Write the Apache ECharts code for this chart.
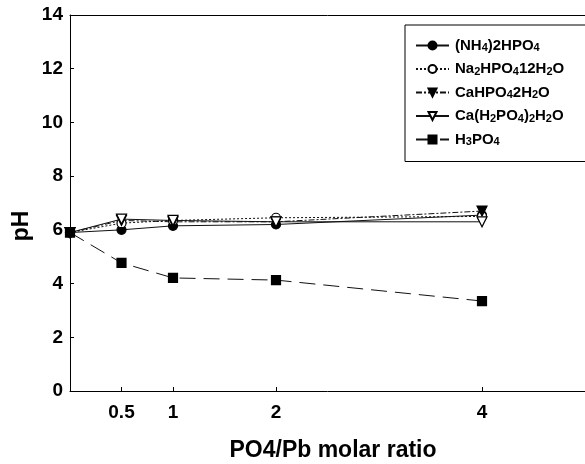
<!DOCTYPE html>
<html>
<head>
<meta charset="utf-8">
<script src="https://cdn.jsdelivr.net/npm/echarts@6/dist/echarts.min.js"></script>
<style>html,body{margin:0;padding:0;background:#fff;}#c{width:585px;height:464px;}</style>
</head>
<body>
<div id="c"></div>
<script>
var ratios = [0, 0.5, 1, 2, 4];
var tickValues = [0.5, 1, 2, 4];
var nh4 = [5.9, 6.0, 6.15, 6.2, 6.55];
var na2 = [5.9, 6.25, 6.35, 6.45, 6.5];
var cahpo4 = [5.9, 6.35, 6.3, 6.3, 6.7];
var cah2po4 = [5.9, 6.4, 6.35, 6.3, 6.3];
var h3po4 = [5.9, 4.77, 4.21, 4.13, 3.35];
var seriesNames = ['(NH4)2HPO4', 'Na2HPO412H2O', 'CaHPO42H2O', 'Ca(H2PO4)2H2O', 'H3PO4'];
var legendRich = {
  '(NH4)2HPO4': '{b|(NH}{s|4}{b|)2HPO}{s|4}',
  'Na2HPO412H2O': '{b|Na}{s|2}{b|HPO}{s|4}{b|12H}{s|2}{b|O}',
  'CaHPO42H2O': '{b|CaHPO}{s|4}{b|2H}{s|2}{b|O}',
  'Ca(H2PO4)2H2O': '{b|Ca(H}{s|2}{b|PO}{s|4}{b|)}{s|2}{b|H}{s|2}{b|O}',
  'H3PO4': '{b|H}{s|3}{b|PO}{s|4}'
};
function pairs(ys){ return ratios.map(function(x,i){ return [x, ys[i]]; }); }
var FONT = 'Liberation Sans, Arial, Helvetica, sans-serif';
function mk(name, ys, symbol, filled, rotate, lineType, size){
  return {
    name: name, type: 'line', data: pairs(ys),
    symbol: symbol, symbolSize: size, symbolRotate: rotate,
    lineStyle: {color: '#111', width: 1, type: lineType},
    itemStyle: {color: filled ? '#000' : '#fff', borderColor: '#000', borderWidth: 1.2},
    emphasis: {disabled: true}, z: 3
  };
}
var chart = echarts.init(document.getElementById('c'));
chart.setOption({
  animation: false,
  backgroundColor: '#fff',
  grid: {left: 70, top: 15, right: -1, bottom: 73},
  xAxis: [{
    type: 'value', min: 0, max: 5,
    axisLine: {lineStyle: {color: '#000', width: 1}},
    axisTick: {inside: true, length: 4, customValues: tickValues, lineStyle: {color: '#000'}},
    axisLabel: {customValues: tickValues, margin: 12, color: '#000', fontSize: 19, fontWeight: 'bold', fontFamily: FONT},
    splitLine: {show: false}
  }, {
    type: 'value', min: 0, max: 5, position: 'top',
    axisLine: {show: true, lineStyle: {color: '#000', width: 1}},
    axisTick: {show: false}, axisLabel: {show: false}, splitLine: {show: false}
  }],
  yAxis: {
    type: 'value', min: 0, max: 14, interval: 2,
    axisLine: {show: true, lineStyle: {color: '#000', width: 1}},
    axisTick: {inside: true, length: 4, lineStyle: {color: '#000'}},
    axisLabel: {margin: 7, color: '#000', fontSize: 19, fontWeight: 'bold', fontFamily: FONT},
    splitLine: {show: false}
  },
  legend: {
    orient: 'vertical', left: 405, top: 25,
    padding: [13, 60, 14, 10], itemGap: 8, itemWidth: 33, itemHeight: 10,
    backgroundColor: '#fff', borderColor: '#000', borderWidth: 1,
    data: seriesNames,
    formatter: function(n){ return legendRich[n]; },
    textStyle: {
      color: '#000', padding: [0, 0, 0, 1],
      rich: {
        b: {fontSize: 15, lineHeight: 16, fontWeight: 'bold', fontFamily: FONT, color: '#000'},
        s: {fontSize: 11, lineHeight: 11, verticalAlign: 'bottom', fontWeight: 'bold', fontFamily: FONT, color: '#000'}
      }
    }
  },
  graphic: [
    {type: 'text', x: 333, y: 451, style: {text: 'PO4/Pb molar ratio', font: 'bold 23px ' + FONT, fill: '#000', align: 'center', verticalAlign: 'middle'}},
    {type: 'text', x: 22, y: 226, rotation: Math.PI / 2, style: {text: 'pH', font: 'bold 23px ' + FONT, fill: '#000', align: 'center', verticalAlign: 'middle'}}
  ],
  series: [
    mk(seriesNames[0], nh4, 'circle', true, 0, 'solid', 9),
    mk(seriesNames[1], na2, 'circle', false, 0, [2, 2], 9),
    mk(seriesNames[2], cahpo4, 'triangle', true, 180, [6, 2, 2, 2], 10),
    mk(seriesNames[3], cah2po4, 'triangle', false, 180, 'solid', 10),
    mk(seriesNames[4], h3po4, 'rect', true, 0, [16, 8], 9)
  ]
});
</script>
</body>
</html>
